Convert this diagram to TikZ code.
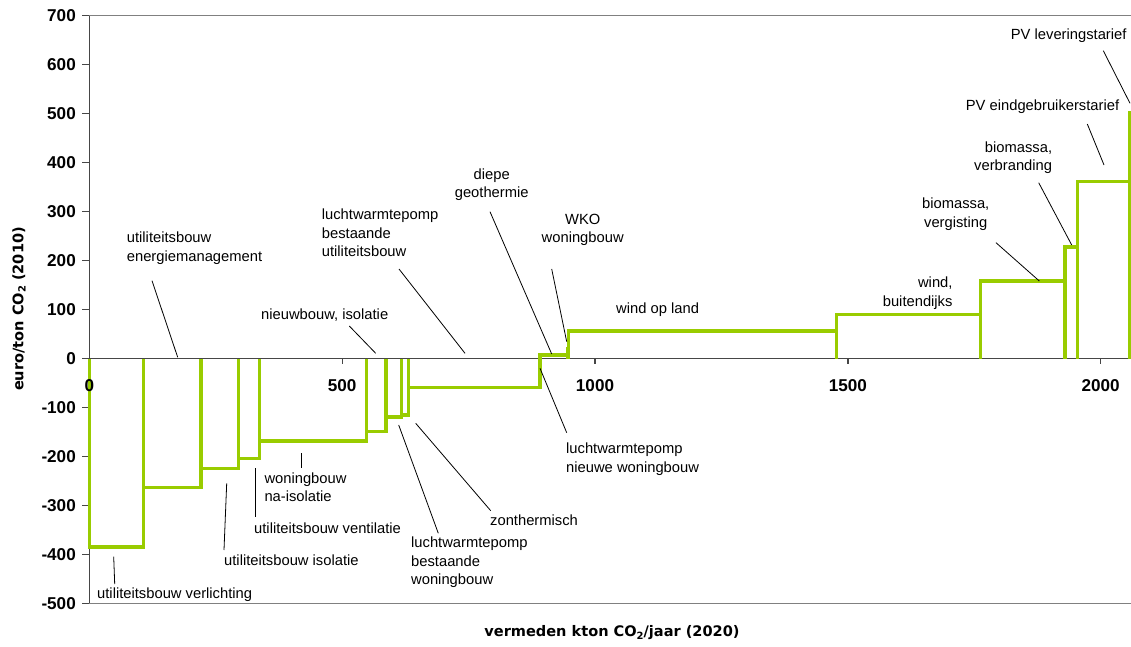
\documentclass[tikz,border=0pt]{standalone}
\usepackage{fontspec}
\setmainfont{Liberation Sans}
\newfontfamily\titlefont{DejaVu Sans}
\definecolor{curvegreen}{RGB}{153,204,0}
\definecolor{framegray}{RGB}{128,128,128}
\definecolor{axisdark}{RGB}{70,70,70}
\newcommand\subtwo{\raisebox{-0.3ex}{\fontsize{10}{10}\selectfont 2}}
\begin{document}
\begin{tikzpicture}[x=1bp,y=-1bp,
  costbar/.style={draw=curvegreen, line width=3.5bp, line join=miter},
  leader/.style={draw=black, line width=0.8bp},
  lbl/.style={font=\fontsize{14.8}{18.5}\selectfont, inner sep=0pt, align=left},
  lblc/.style={lbl, align=center},
  lblr/.style={lbl, align=right},
  ticklbl/.style={font=\fontsize{17.2}{20}\selectfont\bfseries, inner sep=0pt},
  axistitle/.style={font=\titlefont\bfseries\fontsize{14.6}{18}\selectfont, inner sep=0pt},
  frameline/.style={draw=framegray, line width=1.4bp},
  axisline/.style={draw=axisdark, line width=1.3bp}]
\useasboundingbox (0,0) rectangle (1131,647);

% plot frame and axes
\draw[frameline] (89.3,15.7) -- (1131,15.7);
\draw[frameline] (89.3,603.3) -- (1131,603.3);
\draw[axisline] (89.3,15.7) -- (89.3,603.3);
\draw[axisline] (89.3,358.6) -- (1131,358.6);
\foreach \v in {-500,-400,...,700}
  \draw[axisline] (82,{358.6-0.49*\v}) -- (89.3,{358.6-0.49*\v});
\foreach \k in {500,1000,1500,2000}
  \draw[axisline] ({89.3+0.5057*\k},358.6) -- ({89.3+0.5057*\k},364);

% cost curve: one open bar per measure (start / end / euro per ton)
\begin{scope}[shift={(89.3bp,-358.6bp)}, x=0.5057bp, y=0.49bp]
\foreach \a/\b/\v in {0/106.8/-384, 106.8/220.9/-263, 220.9/295.4/-224,
    295.4/336.2/-204, 336.2/548.6/-168, 548.6/586.7/-149, 586.7/617/-119,
    617/631.6/-115, 631.6/891/-59, 891/945.5/7, 945.5/948/20,
    948/1477.5/56, 1477.5/1762/90, 1762/1929.6/158, 1929.6/1953.8/228,
    1953.8/2058/361, 2058/2058/505}
  \draw[costbar] (\a,0) -- (\a,\v) -- (\b,\v) -- (\b,0);
\end{scope}

% tick labels
\foreach \v in {-500,-400,...,700}
  \node[ticklbl, anchor=east] (yt\v) at (76,{358.6-0.49*\v}) {\v};
\foreach \k in {0,500,1000,1500,2000}
  \node[ticklbl] (xt\k) at ({89.3+0.5057*\k},385.7) {\k};

% axis titles
\node[axistitle] (xtitle) at (612,633) {vermeden kton CO\subtwo/jaar (2020)};
\node[axistitle, rotate=90] (ytitle) at (19,309) {euro/ton CO\subtwo\ (2010)};

% measure labels
\node[lbl, anchor=west] (verl) at (97,595) {utiliteitsbouw verlichting};
\node[lbl, anchor=west] (isol) at (224,560.7) {utiliteitsbouw isolatie};
\node[lbl, anchor=west] (vent) at (254,528.7) {utiliteitsbouw ventilatie};
\node[lbl, anchor=west] (nais) at (264.3,487.3) {woningbouw\\na-isolatie};
\node[lbl, anchor=west] (nieuw) at (261,315) {nieuwbouw, isolatie};
\node[lbl, anchor=west] (energ) at (126.7,248.3) {utiliteitsbouw\\energiemanagement};
\node[lbl, anchor=west] (lwpu) at (321.7,233) {luchtwarmtepomp\\bestaande\\utiliteitsbouw};
\node[lblc] (geo) at (491.7,184.8) {diepe\\geothermie};
\node[lblc] (wko) at (582.7,229.7) {WKO\\woningbouw};
\node[lbl, anchor=west] (wland) at (616,310) {wind op land};
\node[lblr, anchor=east] (wbuit) at (952.7,293) {wind,\\buitendijks};
\node[lblc] (bverg) at (955.7,214.3) {biomassa,\\vergisting};
\node[lblr, anchor=east] (bverb) at (1052.3,157.6) {biomassa,\\verbranding};
\node[lbl, anchor=west] (pveind) at (965.7,106.7) {PV eindgebruikerstarief};
\node[lbl, anchor=west] (pvlev) at (1010.7,36) {PV leveringstarief};
\node[lbl, anchor=west] (lwpn) at (566,459.3) {luchtwarmtepomp\\nieuwe woningbouw};
\node[lbl, anchor=west] (zon) at (490,520.7) {zonthermisch};
\node[lbl, anchor=west] (lwpw) at (411,562.5) {luchtwarmtepomp\\bestaande\\woningbouw};

% leader lines from the labels to their bars
\coordinate (verlA) at (113.7,556.7);  \coordinate (verlB) at (114.7,584);
\coordinate (isolA) at (226.7,483.3);  \coordinate (isolB) at (224,550);
\coordinate (ventA) at (255,468.3);    \coordinate (ventB) at (255,516.7);
\coordinate (naisA) at (301,453.3);    \coordinate (naisB) at (301,468.3);
\coordinate (nieuwA) at (349.3,326);   \coordinate (nieuwB) at (375.7,353.3);
\coordinate (energA) at (152,280.7);   \coordinate (energB) at (177.7,357.3);
\coordinate (lwpuA) at (399,269);      \coordinate (lwpuB) at (465,353.3);
\coordinate (geoA) at (490,211.7);     \coordinate (geoB) at (551.7,354);
\coordinate (wkoA) at (551.7,269);     \coordinate (wkoB) at (566.7,341.7);
\coordinate (bvergA) at (996,242.7);   \coordinate (bvergB) at (1039.3,281);
\coordinate (bverbA) at (1038.7,182.7); \coordinate (bverbB) at (1071.7,245);
\coordinate (pveindA) at (1087.3,124); \coordinate (pveindB) at (1104,165);
\coordinate (pvlevA) at (1103.3,50.7); \coordinate (pvlevB) at (1130,103.3);
\coordinate (lwpnA) at (540,368.3);    \coordinate (lwpnB) at (566.7,432.7);
\coordinate (zonA) at (415.7,423.3);   \coordinate (zonB) at (490.7,510.7);
\coordinate (lwpwA) at (398.7,425);    \coordinate (lwpwB) at (438.3,533.3);
\foreach \n in {verl,isol,vent,nais,nieuw,energ,lwpu,geo,wko,bverg,bverb,pveind,pvlev,lwpn,zon,lwpw}
  \draw[leader] (\n A) -- (\n B);
\end{tikzpicture}
\end{document}
